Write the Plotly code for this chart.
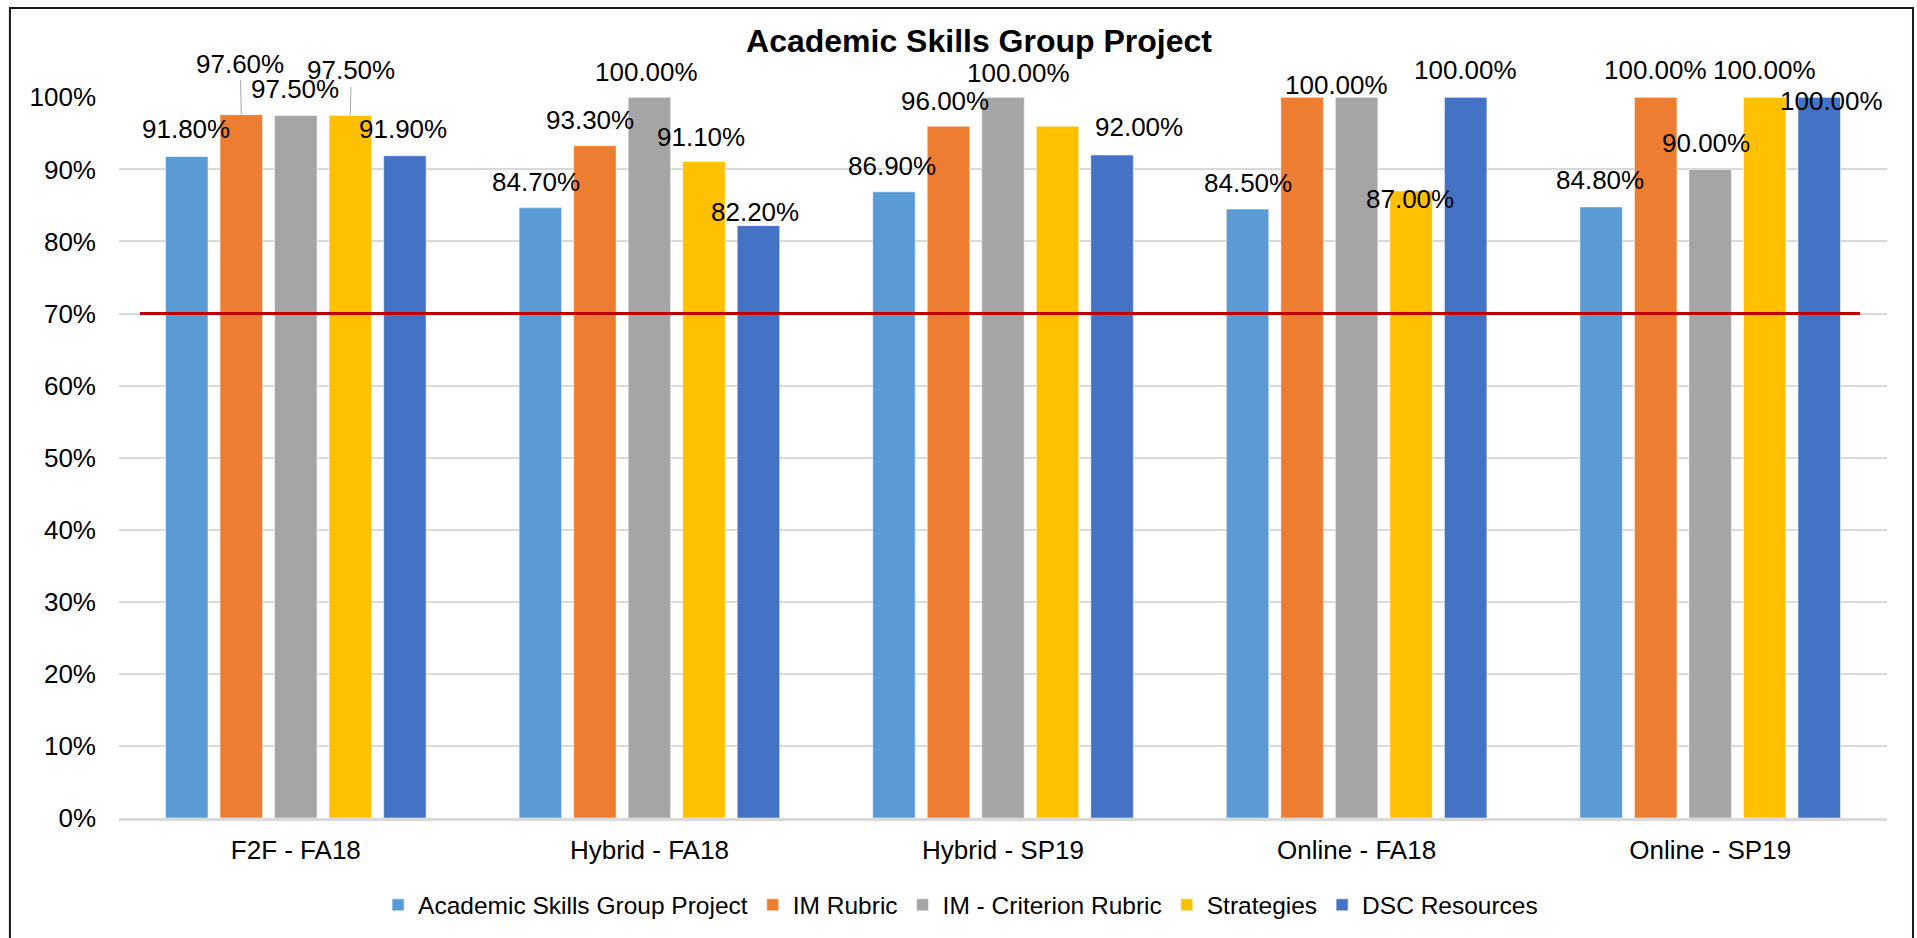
import plotly.graph_objects as go

# ---------------- data ----------------
categories = ["F2F - FA18", "Hybrid - FA18", "Hybrid - SP19", "Online - FA18", "Online - SP19"]
series_names = ["Academic Skills Group Project", "IM Rubric", "IM - Criterion Rubric", "Strategies", "DSC Resources"]
academic_skills = [0.918, 0.847, 0.869, 0.845, 0.848]
im_rubric = [0.976, 0.933, 0.960, 1.000, 1.000]
im_criterion = [0.975, 1.000, 1.000, 1.000, 0.900]
strategies = [0.975, 0.911, 0.960, 0.870, 1.000]
dsc_resources = [0.919, 0.822, 0.920, 1.000, 1.000]
target = 0.70
y_ticks = [0, 0.1, 0.2, 0.3, 0.4, 0.5, 0.6, 0.7, 0.8, 0.9, 1.0]

series_values = [academic_skills, im_rubric, im_criterion, strategies, dsc_resources]

# ---------------- style ----------------
colors = ["#5B9BD5", "#ED7D31", "#A5A5A5", "#FFC000", "#4472C4"]
FONT = "Liberation Sans, Arial, sans-serif"
BARGAP = 0.229
BARGROUPGAP = 0.22

# label placement (pixel offsets of label centre from bar top centre: dx, dy(up), leader line)
# None -> no label shown in the original
label_style = [
    [(-1, 27, False), (-1, 51, True), (-1, 26, False), (1, 45, True), (-2, 27, False)],
    [(-4, 26, False), (-5, 26, False), (-3, 25, False), (-3, 25, False), (-3, 14, False)],
    [(-2, 26, False), (-3, 25, False), (15, 24, False), None, (27, 28, False)],
    [(0, 26, False), None, (-20, 12, False), (-1, -8, False), (0, 27, False)],
    [(-1, 27, False), (0, 27, False), (-4, 26, False), (0, 27, False), (12, -4, False)],
]

fig = go.Figure()
for name, vals, col in zip(series_names, series_values, colors):
    fig.add_trace(go.Bar(
        x=categories, y=vals, name=name,
        marker=dict(color=col, line=dict(color="rgba(255,255,255,0.55)", width=1)),
        hoverinfo="x+y+name",
    ))

slot = (1 - BARGAP) / len(series_names)
annotations = []
for i, cat in enumerate(categories):
    for j, vals in enumerate(series_values):
        st = label_style[i][j]
        if st is None:
            continue
        dx, dy, leader = st
        xpos = i + (j - (len(series_names) - 1) / 2) * slot
        txt = f"{vals[i]*100:.2f}%"
        if leader:
            annotations.append(dict(
                x=xpos, y=vals[i], xref="x", yref="y", text=txt,
                showarrow=True, ax=dx, ay=-dy, arrowhead=0, arrowwidth=1,
                arrowcolor="#A6A6A6", standoff=0, startstandoff=0,
                font=dict(family=FONT, size=26, color="#000000"),
                xanchor="center", yanchor="middle",
            ))
        else:
            annotations.append(dict(
                x=xpos, y=vals[i], xref="x", yref="y", text=txt,
                showarrow=False, xshift=dx, yshift=dy,
                font=dict(family=FONT, size=26, color="#000000"),
                xanchor="center", yanchor="middle",
            ))

shapes = [
    # 70% target line
    dict(type="line", xref="paper", yref="y", x0=0.0119, x1=0.9847, y0=target, y1=target,
         line=dict(color="#C00000", width=3), layer="above"),
    # chart border
    dict(type="rect", xref="paper", yref="paper", x0=-0.0617, x1=1.0147, y0=-0.19, y1=1.1233,
         line=dict(color="#1A1A1A", width=2), fillcolor="rgba(0,0,0,0)", layer="above"),
]

fig.update_layout(
    width=1917, height=938,
    margin=dict(l=119, r=30, t=97, b=119),
    paper_bgcolor="white", plot_bgcolor="white",
    barmode="group", bargap=BARGAP, bargroupgap=BARGROUPGAP,
    title=dict(text="<b>Academic Skills Group Project</b>", x=0.5107, y=0.957,
               xanchor="center", yanchor="middle",
               font=dict(family=FONT, size=32, color="#000000")),
    font=dict(family=FONT, color="#000000"),
    showlegend=True,
    legend=dict(orientation="h", x=0.476, xanchor="center", y=-0.119, yanchor="middle",
                font=dict(family=FONT, size=24.5, color="#000000"), bgcolor="rgba(0,0,0,0)",
                traceorder="normal"),
    annotations=annotations,
    shapes=shapes,
)
fig.update_yaxes(range=[0, 1.0005], tickvals=y_ticks, tickformat=".0%",
                 showgrid=True, gridcolor="#D9D9D9", gridwidth=2,
                 zeroline=False, showline=False, ticks="",
                 tickfont=dict(family=FONT, size=26, color="#000000"),
                 ticklabelstandoff=22)
fig.update_xaxes(showline=True, linecolor="#D9D9D9", linewidth=3, ticks="",
                 tickfont=dict(family=FONT, size=26, color="#000000"),
                 ticklabelstandoff=7, showgrid=False)

fig.write_html("out.html",
               config={"displayModeBar": False},
               post_script="document.body.style.margin='0';document.body.style.overflow='hidden';")
